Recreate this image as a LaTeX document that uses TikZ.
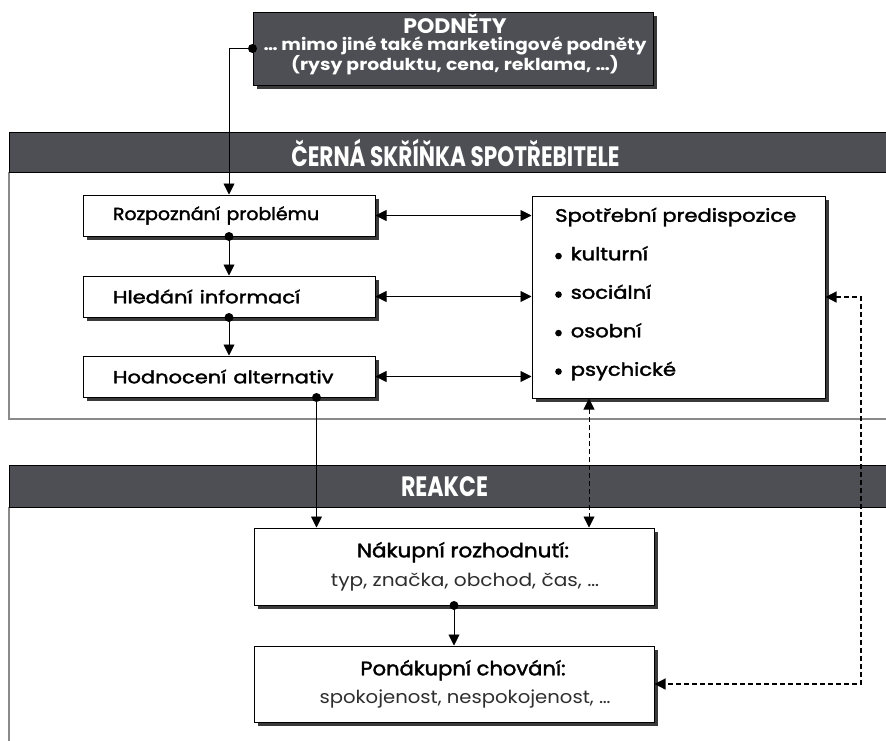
\documentclass[tikz,border=0pt]{standalone}
\usepackage{fontspec}
\setmainfont{Poppins}
\newfontfamily\medf[FakeBold=1.8]{Poppins}
\usepackage{graphicx}
\usetikzlibrary{arrows.meta,shadows,calc}
\definecolor{hdr}{HTML}{4E4F54}
\definecolor{panel}{HTML}{8A8A8A}
\definecolor{shd}{HTML}{3A3A3A}
\definecolor{subtx}{HTML}{2E2E2E}
\newcommand\xs[2]{\scalebox{#1}[1]{#2}}
\newcommand\bul{\tikz[baseline=-4.2pt]\fill (0,0) circle (3.3pt);\hspace{9pt}}
\begin{document}
\begin{tikzpicture}[x=1pt,y=-1pt,
  box/.style={draw=black, line width=1pt, fill=white, inner sep=0pt,
    drop shadow={shadow xshift=3.5pt, shadow yshift=-3.5pt, fill=shd, opacity=1}},
  hdrbar/.style={draw=black, line width=1pt, fill=hdr, inner sep=0pt},
  frame/.style={draw=panel, line width=1.3pt},
  arr/.style={-{Triangle[length=11pt,width=11pt]}, line width=0.9pt},
  darr/.style={{Triangle[length=11pt,width=11pt]}-{Triangle[length=11pt,width=11pt]}, line width=0.9pt},
  dsh/.style={dash pattern=on 5pt off 3pt},
  lbl/.style={font=\medf\fontsize{17.5}{20}\selectfont, text width=232pt, align=left, inner xsep=30pt, minimum height=41pt},
  hdtext/.style={text=white, font=\bfseries\fontsize{28}{28}\selectfont, inner sep=0pt},
  rbox/.style={box, minimum width=400pt, minimum height=77pt, align=center},
  dot/.style={fill=black}
]
\useasboundingbox (0,0) rectangle (886,740);
\clip (0,0) rectangle (886,740);

% panels
\draw[frame] (9,172) -- (9,419) -- (900,419);
\node[hdrbar, minimum width=890pt, minimum height=40pt, anchor=north west] (cbhead) at (9,132) {};
\node[hdtext] (cbtext) at ($(cbhead.center)+(1,0)$) {\xs{0.77}{ČERNÁ SKŘÍŇKA SPOTŘEBITELE}};
\draw[frame] (9,507) -- (9,760);
\node[hdrbar, minimum width=890pt, minimum height=42pt, anchor=north west] (rehead) at (9,465) {};
\node[hdtext] (retext) at ($(rehead.center)+(-10,0)$) {\xs{0.79}{REAKCE}};

% stimuli box
\node[box, fill=hdr, minimum width=400pt, minimum height=73pt] (pod) at (453,48.5) {};
\node[text=white, align=center, inner sep=0pt, font=\bfseries\fontsize{16.5}{17.5}\selectfont] (podtext) at (455,44.5)
  {{\fontsize{21}{17.5}\selectfont\xs{1.05}{PODNĚTY}}\\[-1pt]\xs{1.12}{… mimo jiné také marketingové podněty}\\\xs{1.14}{(rysy produktu, cena, reklama, …)}};

% left process boxes
\node[box, lbl] (rozp) at (229,215.5) {\xs{1.08}{Rozpoznání problému}};
\node[box, lbl] (hled) at (229,296.5) {\xs{1.2}{Hledání informací}};
\node[box, lbl] (hodn) at (229,376.5) {\xs{1.2}{Hodnocení alternativ}};

% predisposition box
\node[box, minimum width=293pt, minimum height=202pt] (sp) at (678.5,297) {};
\node[anchor=north west, inner sep=0pt, align=left, font=\medf\fontsize{18}{38.5}\selectfont] (sptext) at (555,207.5)
  {\xs{1.17}{Spotřební predispozice}\\\bul\xs{1.17}{kulturní}\\\bul\xs{1.17}{sociální}\\\bul\xs{1.17}{osobní}\\\bul\xs{1.17}{psychické}};

% reaction boxes
\node[rbox, font=\fontsize{18}{29}\selectfont] (nak) at (454,566.5)
  {\hspace*{18pt}{\medf\fontsize{19.5}{29}\selectfont\xs{1.1}{Nákupní rozhodnutí:}}\\\hspace*{22pt}{\color{subtx}\xs{1.12}{typ, značka, obchod, čas, …}}};
\node[rbox, minimum height=76pt, font=\fontsize{18}{28}\selectfont] (pon) at (454,684)
  {\hspace*{18pt}{\medf\fontsize{19.5}{28}\selectfont\xs{1.08}{Ponákupní chování:}}\\\hspace*{22pt}{\color{subtx}\xs{1.09}{spokojenost, nespokojenost, …}}};

% helper coordinates
\coordinate (hout) at ($(hodn.south west)+(234,0)$);
\coordinate (xa) at (589,0);
\coordinate (xb) at (861,0);

% connectors
\draw[arr] (pod.west) -| (rozp.north);
\fill[dot] (pod.west) circle (4.5pt);
\draw[arr] (rozp.south) -- (hled.north);
\fill[dot] (rozp.south) circle (4.5pt);
\draw[arr] (hled.south) -- (hodn.north);
\fill[dot] (hled.south) circle (4.5pt);
\draw[arr] (hout) -- (hout |- nak.north);
\fill[dot] (hout) circle (4.5pt);
\draw[arr] (nak.south) -- (pon.north);
\fill[dot] (nak.south) circle (4.5pt);

\draw[darr] (rozp.east) -- (rozp.east -| sp.west);
\draw[darr] (hled.east) -- (hled.east -| sp.west);
\draw[darr] (hodn.east) -- (hodn.east -| sp.west);

\draw[darr, dsh] (xa |- sp.south) -- (xa |- nak.north);
\draw[darr, dsh, line width=1.2pt] (sp.east) -- (xb |- sp.east) -- (xb |- pon.east) -- (pon.east);
\end{tikzpicture}
\end{document}
